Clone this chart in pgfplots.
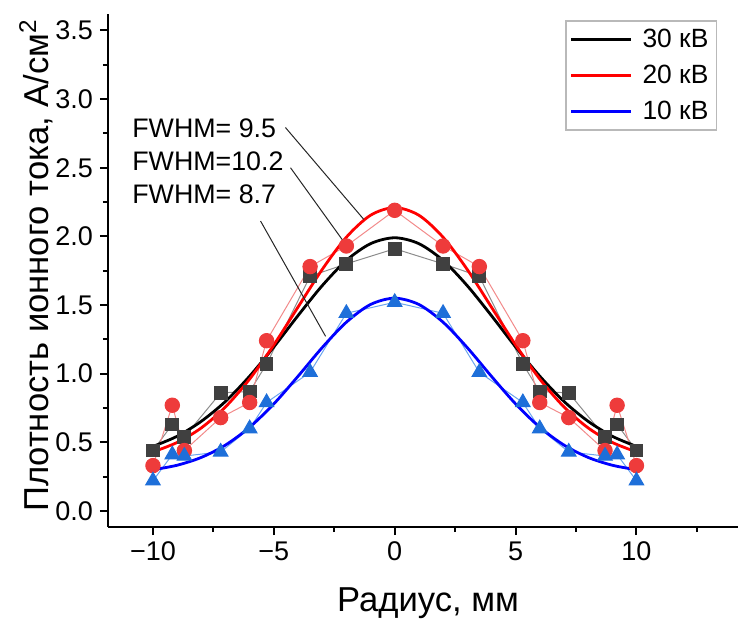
\documentclass[border=0pt]{standalone}
\usepackage{fontspec}
\setmainfont{Liberation Sans}
\usepackage{pgfplots}
\pgfplotsset{compat=1.18}
\definecolor{sqcol}{HTML}{404040}
\definecolor{cicol}{HTML}{EE3B3B}
\definecolor{trcol}{HTML}{1E6FD9}
\definecolor{sqline}{HTML}{8C8C8C}
\definecolor{ciline}{HTML}{F28A8A}
\definecolor{trline}{HTML}{6AA4EE}
\begin{document}
\begin{tikzpicture}
\begin{axis}[
  scale only axis,
  width=315pt, height=256.5pt,
  xmin=-11.86, xmax=14.2,
  ymin=-0.117, ymax=3.62,
  axis x line=bottom, axis y line=left,
  axis line style={-, line width=1pt},
  tick align=outside,
  major tick length=4pt, minor tick length=2.5pt,
  every tick/.style={black, line width=1pt},
  xtick={-10,-5,0,5,10},
  xticklabels={−10,−5,0,5,10},
  minor xtick={-7.5,-2.5,2.5,7.5,12.5},
  ytick={0,0.5,1,1.5,2,2.5,3,3.5},
  yticklabels={0.0,0.5,1.0,1.5,2.0,2.5,3.0,3.5},
  minor ytick={0.25,0.75,1.25,1.75,2.25,2.75,3.25},
  ticklabel style={font=\fontsize{13.5}{16}\selectfont},
  xlabel={Радиус, мм},
  ylabel={Плотность ионного тока, А/см\textsuperscript{2}},
  label style={font=\fontsize{17.3}{20}\selectfont},
  xlabel style={at={(axis description cs:0.508,-0.148)}, anchor=center},
  ylabel style={at={(axis description cs:-0.114,0.51)}, anchor=center},
  clip=false,
  legend style={at={(axis description cs:0.967,0.988)}, anchor=north east,
    draw=gray!55, line width=0.8pt, font=\fontsize{13.2}{16}\selectfont,
    inner xsep=2pt, inner ysep=2pt, row sep=3.2pt},
  legend cell align=left,
  legend image code/.code={\draw[#1, line width=1.4pt] (0pt,0pt) -- (30pt,0pt); \path (33pt,0pt);},
]
% measured points, 30 kV
\addplot[sqline, line width=0.5pt, mark=square*, mark size=3.2pt,
  mark options={fill=sqcol, draw=sqcol}, forget plot] coordinates {
(-10,0.44) (-9.2,0.63) (-8.7,0.54) (-7.2,0.86) (-6,0.87) (-5.3,1.07) (-3.5,1.71) (-2,1.80) (0,1.91)
(2,1.80) (3.5,1.71) (5.3,1.07) (6,0.87) (7.2,0.86) (8.7,0.54) (9.2,0.63) (10,0.44)};
% measured points, 20 kV
\addplot[ciline, line width=0.5pt, mark=*, mark size=3.6pt,
  mark options={fill=cicol, draw=cicol}, forget plot] coordinates {
(-10,0.33) (-9.2,0.77) (-8.7,0.44) (-7.2,0.68) (-6,0.79) (-5.3,1.24) (-3.5,1.78) (-2,1.93) (0,2.19)
(2,1.93) (3.5,1.78) (5.3,1.24) (6,0.79) (7.2,0.68) (8.7,0.44) (9.2,0.77) (10,0.33)};
% measured points, 10 kV
\addplot[trline, line width=0.5pt, mark=triangle*, mark size=4.2pt,
  mark options={fill=trcol, draw=trcol}, forget plot] coordinates {
(-10,0.22) (-9.2,0.41) (-8.7,0.40) (-7.2,0.43) (-6,0.60) (-5.3,0.79) (-3.5,1.01) (-2,1.44) (0,1.52)
(2,1.44) (3.5,1.01) (5.3,0.79) (6,0.60) (7.2,0.43) (8.7,0.40) (9.2,0.41) (10,0.22)};
% fitted curves
\addplot[black, line width=1.4pt, smooth] coordinates {
(-10,0.470) (-9,0.544) (-8,0.653) (-7,0.798) (-6,0.982) (-5,1.195) (-4,1.423) (-3,1.641) (-2,1.825) (-1,1.947) (0,1.990)
(1,1.947) (2,1.825) (3,1.641) (4,1.423) (5,1.195) (6,0.982) (7,0.798) (8,0.653) (9,0.544) (10,0.470)};
\addlegendentry{30 кВ}
\addplot[red, line width=1.4pt, smooth] coordinates {
(-10,0.430) (-9,0.499) (-8,0.605) (-7,0.758) (-6,0.961) (-5,1.210) (-4,1.485) (-3,1.759) (-2,1.994) (-1,2.154) (0,2.210)
(1,2.154) (2,1.994) (3,1.759) (4,1.485) (5,1.210) (6,0.961) (7,0.758) (8,0.605) (9,0.499) (10,0.430)};
\addlegendentry{20 кВ}
\addplot[blue, line width=1.4pt, smooth] coordinates {
(-10,0.300) (-9,0.333) (-8,0.390) (-7,0.480) (-6,0.610) (-5,0.780) (-4,0.981) (-3,1.190) (-2,1.375) (-1,1.504) (0,1.550)
(1,1.504) (2,1.375) (3,1.190) (4,0.981) (5,0.780) (6,0.610) (7,0.480) (8,0.390) (9,0.333) (10,0.300)};
\addlegendentry{10 кВ}
% annotations
\draw[black!85, line width=0.5pt] (axis cs:-4.52,2.793) -- (axis cs:-1.28,2.124);
\draw[black!85, line width=0.5pt] (axis cs:-4.31,2.50) -- (axis cs:-1.83,1.893);
\draw[black!85, line width=0.5pt] (axis cs:-5.55,2.112) -- (axis cs:-2.86,1.272);
\node[anchor=west, inner sep=0pt, font=\fontsize{13.4}{16}\selectfont] at (axis cs:-10.87,2.785) {FWHM= 9.5};
\node[anchor=west, inner sep=0pt, font=\fontsize{13.4}{16}\selectfont] at (axis cs:-10.87,2.545) {FWHM=10.2};
\node[anchor=west, inner sep=0pt, font=\fontsize{13.4}{16}\selectfont] at (axis cs:-10.87,2.310) {FWHM= 8.7};
\end{axis}
\pgfresetboundingbox
\path[use as bounding box] (-54pt,-48pt) rectangle (316pt,263.5pt);
\end{tikzpicture}
\end{document}
